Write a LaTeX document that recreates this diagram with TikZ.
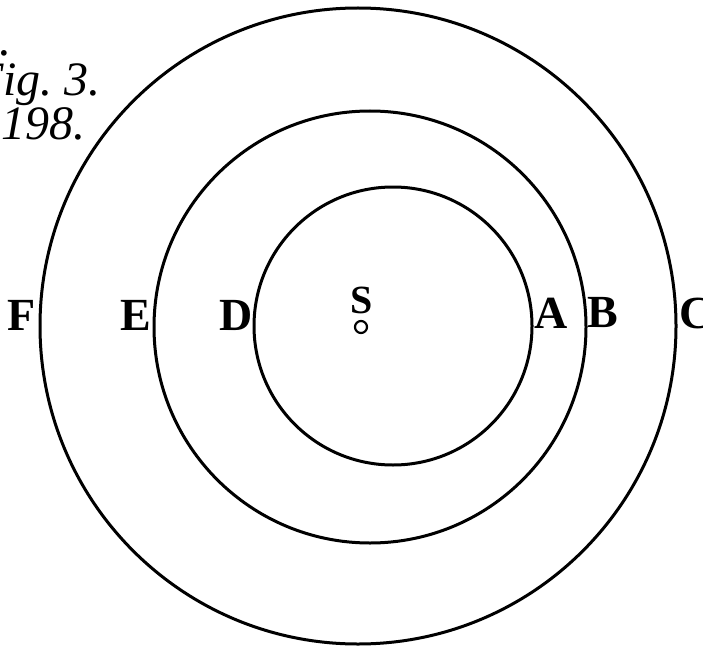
\documentclass[tikz,border=0pt]{standalone}
\usepackage{fontspec}
\setmainfont{Liberation Serif}
\usetikzlibrary{positioning}

\tikzset{
  orbit/.style={draw, line width=3pt},
  letter/.style={font=\fontsize{46}{46}\selectfont\bfseries, inner sep=0pt},
  plate/.style={font=\fontsize{48}{48}\selectfont\itshape, inner sep=0pt, anchor=base east}
}

\begin{document}
\begin{tikzpicture}[x=1pt,y=-1pt]
  \useasboundingbox (0,0) rectangle (703,647);
  \clip (0,0) rectangle (703,647);

  % Plate marks
  \node[plate] (pl)  at (12,56)  {5.};
  \node[plate] (fig) at (101,96) {Fig.~3.};
  \node[plate] (pag) at (86,140) {Pag.~198.};

  % Centres of the orbits
  \coordinate (c1) at (393,326);
  \coordinate (c2) at (370,327);
  \coordinate (c3) at (358,326);

  % Orbits
  \draw[orbit] (c1) circle (139);
  \draw[orbit] (c2) circle (216);
  \draw[orbit] (c3) circle (318);

  % Sun
  \node[letter, font=\fontsize{40}{40}\selectfont\bfseries] (S) at (362,300) {S};
  \draw[line width=2.2pt] (361,327) circle (6);

  % Points on the orbits
  \node[letter] (A) at (551,313) {A};
  \node[letter] (B) at (603,313) {B};
  \node[letter, anchor=west] (C) at (679,313) {C};
  \node[letter] (D) at (236,315) {D};
  \node[letter] (E) at (136,315) {E};
  \node[letter] (F) at (22,315) {F};
\end{tikzpicture}
\end{document}
